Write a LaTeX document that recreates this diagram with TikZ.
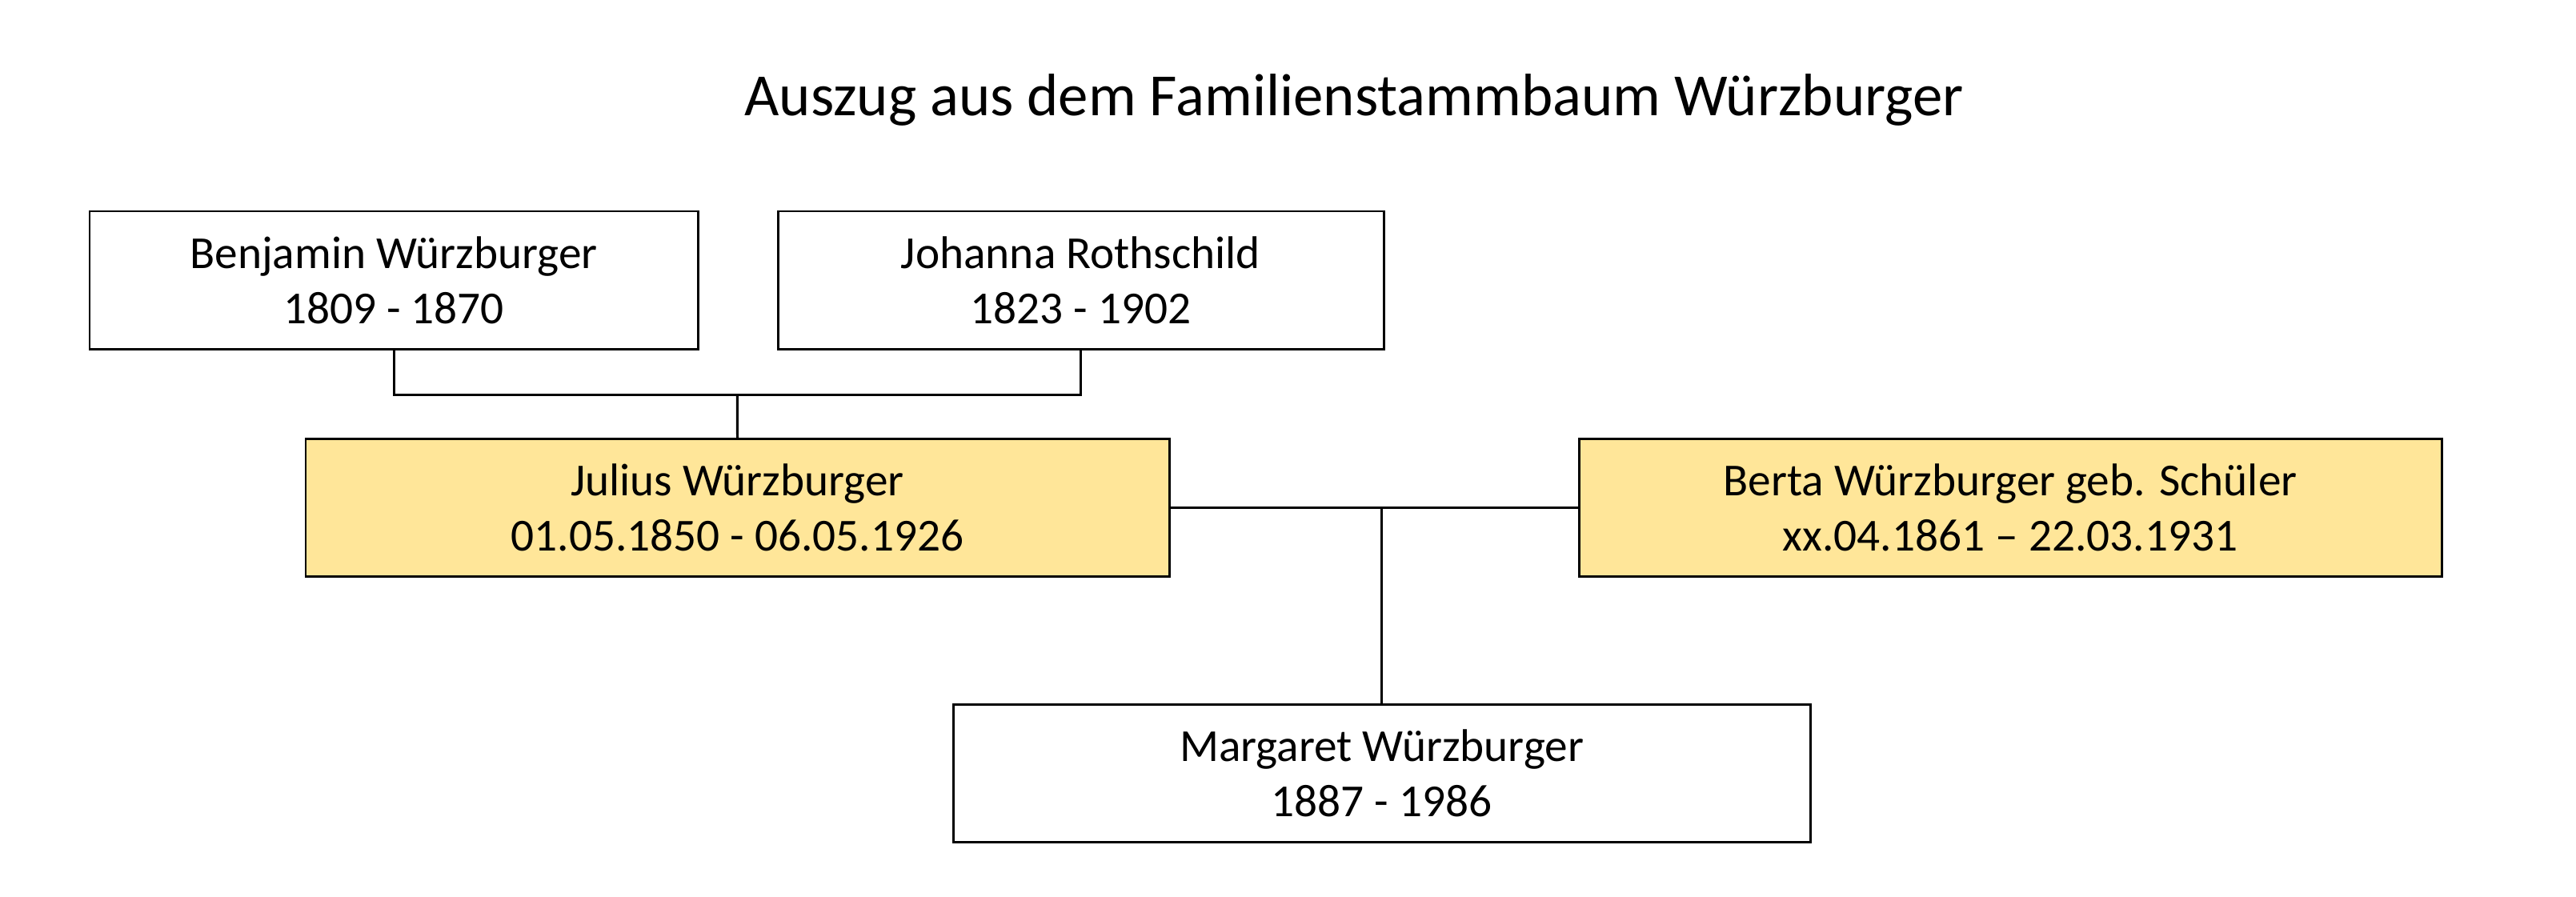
\documentclass[tikz,border=0pt]{standalone}
\usepackage{fontspec}
\setmainfont{Carlito}
\usepackage{tikz}
\usetikzlibrary{calc, positioning}
\definecolor{gelb}{HTML}{FFE699}

\begin{document}
\begin{tikzpicture}[
		person/.style={draw=black, line width=0.85pt, fill=white, minimum height=1.72cm, align=center, font=\fontsize{16.3}{19.6}\selectfont, inner sep=0pt},
		partner/.style={person, fill=gelb},
		linie/.style={draw=black, line width=0.85pt}
	]
				\useasboundingbox (0, 0) rectangle (32.19, -11.20);
				
				\node[font=\fontsize{21.3}{25}\selectfont] (titel) at (16.92, -1.25) {Auszug aus dem Familienstammbaum Würzburger};
				
				\node[person, minimum width=7.60cm] (ben) at (4.92, -3.50) {Benjamin Würzburger\\1809 - 1870};
				\node[person, minimum width=7.57cm] (joh) at (13.505, -3.50) {Johanna Rothschild\\1823 - 1902};
				
				\coordinate (eltern) at ($(ben.south)!0.5!(joh.south) + (0, -0.56)$);
				
				\node[partner, minimum width=10.79cm] (jul) at (9.215, -6.345) {Julius Würzburger\\01.05.1850 - 06.05.1926};
				\node[partner, minimum width=10.78cm] (ber) at (25.12, -6.345) {Berta Würzburger geb. Schüler\\xx.04.1861 – 22.03.1931};
				
				\node[person, minimum width=10.71cm] (mar) at (17.265, -9.66) {Margaret Würzburger\\1887 - 1986};
				
				\draw[linie] (ben.south) -- (ben.south |- eltern) -- (joh.south |- eltern) -- (joh.south);
				\draw[linie] (eltern) -- (jul.north);
				
				\draw[linie] (jul.east) -- (ber.west);
				\draw[linie] (mar.north |- jul.east) -- (mar.north);
\end{tikzpicture}
\end{document}
